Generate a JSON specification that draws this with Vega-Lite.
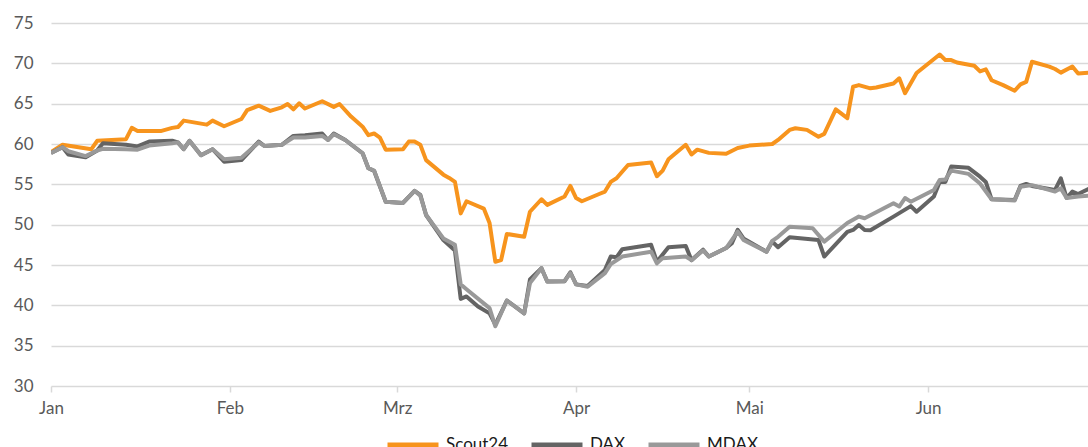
{
"$schema": "https://vega.github.io/schema/vega-lite/v6.json",
"width": 1037, "height": 363,
"autosize": "none",
"padding": {"left": 51, "top": 23, "right": 0, "bottom": 61},
"background": "white",
"data": {"values": [
{"d":"2020-01-01","s":"Scout24","v":59.0},{"d":"2020-01-03","s":"Scout24","v":59.9},{"d":"2020-01-08","s":"Scout24","v":59.35},{"d":"2020-01-09","s":"Scout24","v":60.4},{"d":"2020-01-14","s":"Scout24","v":60.6},{"d":"2020-01-15","s":"Scout24","v":62.0},{"d":"2020-01-16","s":"Scout24","v":61.6},{"d":"2020-01-20","s":"Scout24","v":61.6},{"d":"2020-01-22","s":"Scout24","v":62.0},{"d":"2020-01-23","s":"Scout24","v":62.1},{"d":"2020-01-24","s":"Scout24","v":62.9},{"d":"2020-01-28","s":"Scout24","v":62.4},{"d":"2020-01-29","s":"Scout24","v":62.9},{"d":"2020-01-31","s":"Scout24","v":62.2},
{"d":"2020-02-03","s":"Scout24","v":63.1},{"d":"2020-02-04","s":"Scout24","v":64.2},{"d":"2020-02-06","s":"Scout24","v":64.75},{"d":"2020-02-08","s":"Scout24","v":64.1},{"d":"2020-02-10","s":"Scout24","v":64.55},{"d":"2020-02-11","s":"Scout24","v":64.96},{"d":"2020-02-12","s":"Scout24","v":64.3},{"d":"2020-02-13","s":"Scout24","v":65.05},{"d":"2020-02-14","s":"Scout24","v":64.4},{"d":"2020-02-17","s":"Scout24","v":65.3},{"d":"2020-02-19","s":"Scout24","v":64.6},{"d":"2020-02-20","s":"Scout24","v":64.96},{"d":"2020-02-22","s":"Scout24","v":63.4},{"d":"2020-02-24","s":"Scout24","v":62.15},{"d":"2020-02-25","s":"Scout24","v":61.1},{"d":"2020-02-26","s":"Scout24","v":61.3},{"d":"2020-02-27","s":"Scout24","v":60.8},{"d":"2020-02-28","s":"Scout24","v":59.3},
{"d":"2020-03-02","s":"Scout24","v":59.35},{"d":"2020-03-03","s":"Scout24","v":60.3},{"d":"2020-03-04","s":"Scout24","v":60.3},{"d":"2020-03-05","s":"Scout24","v":59.9},{"d":"2020-03-06","s":"Scout24","v":58.0},{"d":"2020-03-09","s":"Scout24","v":56.2},{"d":"2020-03-10","s":"Scout24","v":55.8},{"d":"2020-03-11","s":"Scout24","v":55.3},{"d":"2020-03-12","s":"Scout24","v":51.4},{"d":"2020-03-13","s":"Scout24","v":52.9},{"d":"2020-03-16","s":"Scout24","v":52.0},{"d":"2020-03-17","s":"Scout24","v":50.2},{"d":"2020-03-18","s":"Scout24","v":45.4},{"d":"2020-03-19","s":"Scout24","v":45.6},{"d":"2020-03-20","s":"Scout24","v":48.85},{"d":"2020-03-23","s":"Scout24","v":48.5},{"d":"2020-03-24","s":"Scout24","v":51.6},{"d":"2020-03-26","s":"Scout24","v":53.15},{"d":"2020-03-27","s":"Scout24","v":52.45},{"d":"2020-03-30","s":"Scout24","v":53.5},{"d":"2020-03-31","s":"Scout24","v":54.8},
{"d":"2020-04-01","s":"Scout24","v":53.3},{"d":"2020-04-02","s":"Scout24","v":52.9},{"d":"2020-04-05","s":"Scout24","v":53.8},{"d":"2020-04-06","s":"Scout24","v":54.1},{"d":"2020-04-07","s":"Scout24","v":55.3},{"d":"2020-04-08","s":"Scout24","v":55.75},{"d":"2020-04-10","s":"Scout24","v":57.4},{"d":"2020-04-14","s":"Scout24","v":57.7},{"d":"2020-04-15","s":"Scout24","v":56.0},{"d":"2020-04-16","s":"Scout24","v":56.7},{"d":"2020-04-17","s":"Scout24","v":58.1},{"d":"2020-04-20","s":"Scout24","v":59.9},{"d":"2020-04-21","s":"Scout24","v":58.7},{"d":"2020-04-22","s":"Scout24","v":59.3},{"d":"2020-04-24","s":"Scout24","v":58.9},{"d":"2020-04-27","s":"Scout24","v":58.8},{"d":"2020-04-29","s":"Scout24","v":59.5},
{"d":"2020-05-01","s":"Scout24","v":59.8},{"d":"2020-05-05","s":"Scout24","v":60.0},{"d":"2020-05-06","s":"Scout24","v":60.5},{"d":"2020-05-08","s":"Scout24","v":61.75},{"d":"2020-05-09","s":"Scout24","v":61.95},{"d":"2020-05-11","s":"Scout24","v":61.75},{"d":"2020-05-13","s":"Scout24","v":60.9},{"d":"2020-05-14","s":"Scout24","v":61.25},{"d":"2020-05-16","s":"Scout24","v":64.3},{"d":"2020-05-18","s":"Scout24","v":63.2},{"d":"2020-05-19","s":"Scout24","v":67.1},{"d":"2020-05-20","s":"Scout24","v":67.3},{"d":"2020-05-22","s":"Scout24","v":66.9},{"d":"2020-05-23","s":"Scout24","v":67.0},{"d":"2020-05-26","s":"Scout24","v":67.5},{"d":"2020-05-27","s":"Scout24","v":68.15},{"d":"2020-05-28","s":"Scout24","v":66.3},{"d":"2020-05-30","s":"Scout24","v":68.8},
{"d":"2020-06-03","s":"Scout24","v":71.1},{"d":"2020-06-04","s":"Scout24","v":70.4},{"d":"2020-06-05","s":"Scout24","v":70.4},{"d":"2020-06-06","s":"Scout24","v":70.1},{"d":"2020-06-09","s":"Scout24","v":69.7},{"d":"2020-06-10","s":"Scout24","v":69.0},{"d":"2020-06-11","s":"Scout24","v":69.25},{"d":"2020-06-12","s":"Scout24","v":67.9},{"d":"2020-06-14","s":"Scout24","v":67.3},{"d":"2020-06-16","s":"Scout24","v":66.6},{"d":"2020-06-17","s":"Scout24","v":67.4},{"d":"2020-06-18","s":"Scout24","v":67.7},{"d":"2020-06-19","s":"Scout24","v":70.2},{"d":"2020-06-22","s":"Scout24","v":69.6},{"d":"2020-06-23","s":"Scout24","v":69.3},{"d":"2020-06-24","s":"Scout24","v":68.85},{"d":"2020-06-26","s":"Scout24","v":69.6},{"d":"2020-06-27","s":"Scout24","v":68.75},{"d":"2020-06-29","s":"Scout24","v":68.85},
{"d":"2020-01-01","s":"DAX","v":58.9},{"d":"2020-01-03","s":"DAX","v":59.6},{"d":"2020-01-04","s":"DAX","v":58.7},{"d":"2020-01-07","s":"DAX","v":58.35},{"d":"2020-01-09","s":"DAX","v":59.2},{"d":"2020-01-10","s":"DAX","v":60.1},{"d":"2020-01-14","s":"DAX","v":59.9},{"d":"2020-01-16","s":"DAX","v":59.7},{"d":"2020-01-18","s":"DAX","v":60.3},{"d":"2020-01-22","s":"DAX","v":60.4},{"d":"2020-01-23","s":"DAX","v":60.2},{"d":"2020-01-24","s":"DAX","v":59.35},{"d":"2020-01-25","s":"DAX","v":60.4},{"d":"2020-01-27","s":"DAX","v":58.6},{"d":"2020-01-29","s":"DAX","v":59.35},{"d":"2020-01-31","s":"DAX","v":57.8},
{"d":"2020-02-03","s":"DAX","v":58.0},{"d":"2020-02-06","s":"DAX","v":60.3},{"d":"2020-02-07","s":"DAX","v":59.75},{"d":"2020-02-10","s":"DAX","v":59.9},{"d":"2020-02-12","s":"DAX","v":61.0},{"d":"2020-02-14","s":"DAX","v":61.1},{"d":"2020-02-17","s":"DAX","v":61.3},{"d":"2020-02-18","s":"DAX","v":60.5},{"d":"2020-02-19","s":"DAX","v":61.3},{"d":"2020-02-21","s":"DAX","v":60.5},{"d":"2020-02-24","s":"DAX","v":58.85},{"d":"2020-02-25","s":"DAX","v":57.0},{"d":"2020-02-26","s":"DAX","v":56.65},{"d":"2020-02-28","s":"DAX","v":52.85},
{"d":"2020-03-02","s":"DAX","v":52.7},{"d":"2020-03-04","s":"DAX","v":54.2},{"d":"2020-03-05","s":"DAX","v":53.7},{"d":"2020-03-06","s":"DAX","v":51.2},{"d":"2020-03-09","s":"DAX","v":48.1},{"d":"2020-03-11","s":"DAX","v":46.8},{"d":"2020-03-12","s":"DAX","v":40.8},{"d":"2020-03-13","s":"DAX","v":41.1},{"d":"2020-03-15","s":"DAX","v":39.85},{"d":"2020-03-17","s":"DAX","v":39.0},{"d":"2020-03-18","s":"DAX","v":37.6},{"d":"2020-03-20","s":"DAX","v":40.6},{"d":"2020-03-23","s":"DAX","v":39.0},{"d":"2020-03-24","s":"DAX","v":43.2},{"d":"2020-03-26","s":"DAX","v":44.6},{"d":"2020-03-27","s":"DAX","v":42.95},{"d":"2020-03-30","s":"DAX","v":43.0},{"d":"2020-03-31","s":"DAX","v":44.1},
{"d":"2020-04-01","s":"DAX","v":42.6},{"d":"2020-04-03","s":"DAX","v":42.4},{"d":"2020-04-06","s":"DAX","v":44.4},{"d":"2020-04-07","s":"DAX","v":46.05},{"d":"2020-04-08","s":"DAX","v":45.95},{"d":"2020-04-09","s":"DAX","v":46.95},{"d":"2020-04-14","s":"DAX","v":47.5},{"d":"2020-04-15","s":"DAX","v":45.4},{"d":"2020-04-17","s":"DAX","v":47.2},{"d":"2020-04-20","s":"DAX","v":47.35},{"d":"2020-04-21","s":"DAX","v":45.6},{"d":"2020-04-23","s":"DAX","v":46.9},{"d":"2020-04-24","s":"DAX","v":46.05},{"d":"2020-04-27","s":"DAX","v":47.1},{"d":"2020-04-28","s":"DAX","v":47.7},{"d":"2020-04-29","s":"DAX","v":49.35},{"d":"2020-04-30","s":"DAX","v":48.3},
{"d":"2020-05-04","s":"DAX","v":46.65},{"d":"2020-05-05","s":"DAX","v":47.9},{"d":"2020-05-06","s":"DAX","v":47.2},{"d":"2020-05-08","s":"DAX","v":48.45},{"d":"2020-05-13","s":"DAX","v":48.1},{"d":"2020-05-14","s":"DAX","v":46.05},{"d":"2020-05-18","s":"DAX","v":49.1},{"d":"2020-05-19","s":"DAX","v":49.35},{"d":"2020-05-20","s":"DAX","v":49.95},{"d":"2020-05-21","s":"DAX","v":49.35},{"d":"2020-05-22","s":"DAX","v":49.3},{"d":"2020-05-26","s":"DAX","v":51.0},{"d":"2020-05-29","s":"DAX","v":52.3},{"d":"2020-05-30","s":"DAX","v":51.6},
{"d":"2020-06-02","s":"DAX","v":53.5},{"d":"2020-06-03","s":"DAX","v":55.3},{"d":"2020-06-04","s":"DAX","v":55.3},{"d":"2020-06-05","s":"DAX","v":57.2},{"d":"2020-06-08","s":"DAX","v":57.05},{"d":"2020-06-10","s":"DAX","v":55.95},{"d":"2020-06-11","s":"DAX","v":55.3},{"d":"2020-06-12","s":"DAX","v":53.15},{"d":"2020-06-16","s":"DAX","v":53.05},{"d":"2020-06-17","s":"DAX","v":54.8},{"d":"2020-06-18","s":"DAX","v":55.05},{"d":"2020-06-19","s":"DAX","v":54.8},{"d":"2020-06-23","s":"DAX","v":54.3},{"d":"2020-06-24","s":"DAX","v":55.75},{"d":"2020-06-25","s":"DAX","v":53.3},{"d":"2020-06-26","s":"DAX","v":54.1},{"d":"2020-06-27","s":"DAX","v":53.8},{"d":"2020-06-29","s":"DAX","v":54.5},
{"d":"2020-01-01","s":"MDAX","v":58.9},{"d":"2020-01-03","s":"MDAX","v":59.6},{"d":"2020-01-04","s":"MDAX","v":59.1},{"d":"2020-01-07","s":"MDAX","v":58.5},{"d":"2020-01-09","s":"MDAX","v":59.2},{"d":"2020-01-10","s":"MDAX","v":59.4},{"d":"2020-01-14","s":"MDAX","v":59.35},{"d":"2020-01-16","s":"MDAX","v":59.3},{"d":"2020-01-18","s":"MDAX","v":59.8},{"d":"2020-01-22","s":"MDAX","v":60.1},{"d":"2020-01-23","s":"MDAX","v":60.2},{"d":"2020-01-24","s":"MDAX","v":59.35},{"d":"2020-01-25","s":"MDAX","v":60.4},{"d":"2020-01-27","s":"MDAX","v":58.6},{"d":"2020-01-29","s":"MDAX","v":59.35},{"d":"2020-01-31","s":"MDAX","v":58.1},
{"d":"2020-02-03","s":"MDAX","v":58.3},{"d":"2020-02-06","s":"MDAX","v":60.2},{"d":"2020-02-07","s":"MDAX","v":59.75},{"d":"2020-02-10","s":"MDAX","v":59.9},{"d":"2020-02-12","s":"MDAX","v":60.8},{"d":"2020-02-14","s":"MDAX","v":60.8},{"d":"2020-02-17","s":"MDAX","v":61.0},{"d":"2020-02-18","s":"MDAX","v":60.5},{"d":"2020-02-19","s":"MDAX","v":61.2},{"d":"2020-02-21","s":"MDAX","v":60.5},{"d":"2020-02-24","s":"MDAX","v":58.85},{"d":"2020-02-25","s":"MDAX","v":57.0},{"d":"2020-02-26","s":"MDAX","v":56.7},{"d":"2020-02-28","s":"MDAX","v":52.85},
{"d":"2020-03-02","s":"MDAX","v":52.7},{"d":"2020-03-04","s":"MDAX","v":54.2},{"d":"2020-03-05","s":"MDAX","v":53.6},{"d":"2020-03-06","s":"MDAX","v":51.2},{"d":"2020-03-09","s":"MDAX","v":48.3},{"d":"2020-03-11","s":"MDAX","v":47.5},{"d":"2020-03-12","s":"MDAX","v":42.6},{"d":"2020-03-13","s":"MDAX","v":42.0},{"d":"2020-03-17","s":"MDAX","v":39.65},{"d":"2020-03-18","s":"MDAX","v":37.4},{"d":"2020-03-20","s":"MDAX","v":40.6},{"d":"2020-03-23","s":"MDAX","v":39.0},{"d":"2020-03-24","s":"MDAX","v":42.75},{"d":"2020-03-26","s":"MDAX","v":44.6},{"d":"2020-03-27","s":"MDAX","v":42.95},{"d":"2020-03-30","s":"MDAX","v":43.0},{"d":"2020-03-31","s":"MDAX","v":44.0},
{"d":"2020-04-01","s":"MDAX","v":42.6},{"d":"2020-04-03","s":"MDAX","v":42.3},{"d":"2020-04-06","s":"MDAX","v":44.0},{"d":"2020-04-07","s":"MDAX","v":45.1},{"d":"2020-04-09","s":"MDAX","v":46.05},{"d":"2020-04-14","s":"MDAX","v":46.65},{"d":"2020-04-15","s":"MDAX","v":45.2},{"d":"2020-04-16","s":"MDAX","v":45.85},{"d":"2020-04-20","s":"MDAX","v":46.05},{"d":"2020-04-21","s":"MDAX","v":45.6},{"d":"2020-04-23","s":"MDAX","v":46.8},{"d":"2020-04-24","s":"MDAX","v":46.05},{"d":"2020-04-27","s":"MDAX","v":47.1},{"d":"2020-04-29","s":"MDAX","v":49.15},{"d":"2020-04-30","s":"MDAX","v":48.1},
{"d":"2020-05-04","s":"MDAX","v":46.65},{"d":"2020-05-05","s":"MDAX","v":48.0},{"d":"2020-05-06","s":"MDAX","v":48.5},{"d":"2020-05-08","s":"MDAX","v":49.75},{"d":"2020-05-12","s":"MDAX","v":49.55},{"d":"2020-05-14","s":"MDAX","v":47.9},{"d":"2020-05-18","s":"MDAX","v":50.2},{"d":"2020-05-20","s":"MDAX","v":51.0},{"d":"2020-05-21","s":"MDAX","v":50.8},{"d":"2020-05-26","s":"MDAX","v":52.65},{"d":"2020-05-27","s":"MDAX","v":52.25},{"d":"2020-05-28","s":"MDAX","v":53.3},{"d":"2020-05-29","s":"MDAX","v":52.85},
{"d":"2020-06-02","s":"MDAX","v":54.3},{"d":"2020-06-03","s":"MDAX","v":55.55},{"d":"2020-06-04","s":"MDAX","v":55.6},{"d":"2020-06-05","s":"MDAX","v":56.7},{"d":"2020-06-08","s":"MDAX","v":56.3},{"d":"2020-06-10","s":"MDAX","v":55.1},{"d":"2020-06-12","s":"MDAX","v":53.15},{"d":"2020-06-16","s":"MDAX","v":53.0},{"d":"2020-06-17","s":"MDAX","v":54.7},{"d":"2020-06-19","s":"MDAX","v":54.9},{"d":"2020-06-23","s":"MDAX","v":54.1},{"d":"2020-06-24","s":"MDAX","v":54.5},{"d":"2020-06-25","s":"MDAX","v":53.3},{"d":"2020-06-27","s":"MDAX","v":53.5},{"d":"2020-06-29","s":"MDAX","v":53.6}
]},
"mark": {"type": "line", "strokeWidth": 4, "clip": true, "strokeJoin": "round"},
"encoding": {
  "x": {"field": "d", "type": "temporal",
    "scale": {"type": "utc", "domain": [{"year": 2020, "month": 1, "date": 1, "utc": true}, {"year": 2020, "month": 6, "date": 28, "hours": 17, "utc": true}]},
    "axis": {"title": null, "grid": false, "domain": false, "ticks": true, "tickSize": 6, "tickColor": "#d9d9d9", "tickWidth": 1.5,
      "tickCount": {"interval": "month", "step": 1},
      "labelExpr": "['Jan','Feb','Mrz','Apr','Mai','Jun','Jul','Aug','Sep','Okt','Nov','Dez'][utcmonth(datum.value)]",
      "labelFont": "Lato", "labelFontSize": 17, "labelColor": "#595959", "labelPadding": 8, "labelFlush": false, "labelOverlap": false}},
  "y": {"field": "v", "type": "quantitative",
    "scale": {"domain": [30, 75], "nice": false, "zero": false},
    "axis": {"title": null, "values": [30, 35, 40, 45, 50, 55, 60, 65, 70, 75], "grid": true, "gridColor": "#d9d9d9", "gridWidth": 1.5,
      "domain": false, "ticks": false, "tickSize": 0, "labelPadding": 18,
      "labelFont": "Lato", "labelFontSize": 17, "labelColor": "#595959"}},
  "color": {"field": "s", "type": "nominal",
    "scale": {"domain": ["Scout24", "DAX", "MDAX"], "range": ["#F7941D", "#646464", "#999999"]},
    "legend": {"orient": "none", "legendX": 334, "legendY": 394, "direction": "horizontal", "title": null,
      "symbolType": "stroke", "symbolSize": 2600, "symbolStrokeWidth": 5,
      "labelFont": "Lato", "labelFontSize": 17, "labelColor": "#1a1a1a", "labelOffset": 5, "columnPadding": 12, "padding": 0}}
},
"config": {"view": {"stroke": null}}
}
